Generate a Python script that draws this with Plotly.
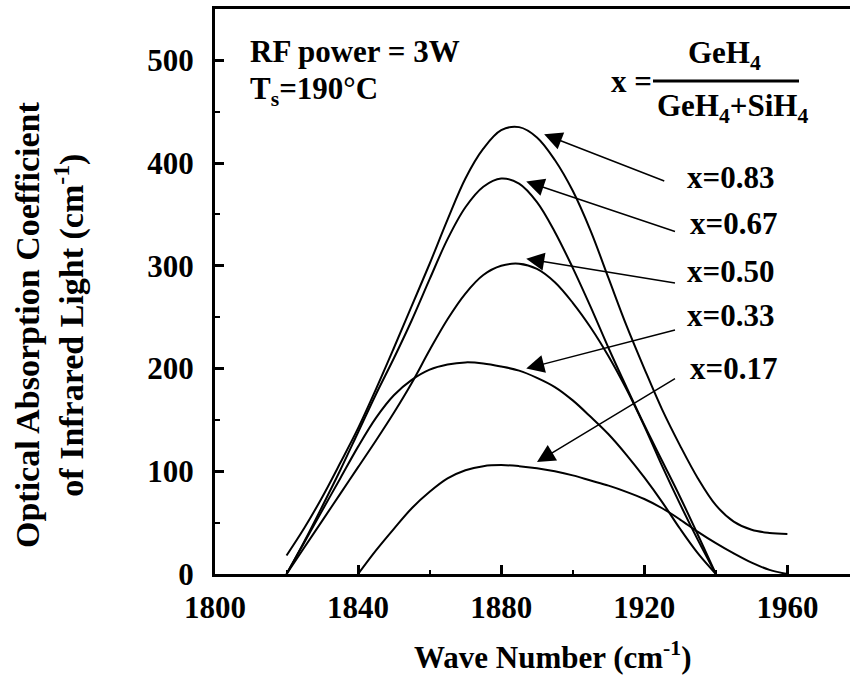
import plotly.graph_objects as go

# ---- data ----
wn_083 = [1820, 1825, 1830, 1835, 1840, 1845, 1850, 1855, 1860, 1865, 1870, 1875, 1880, 1885, 1890,
          1895, 1900, 1905, 1910, 1915, 1920, 1925, 1930, 1935, 1940, 1945, 1950, 1955, 1960]
ab_083 = [18, 45, 75, 108, 142, 180, 220, 261, 302, 345, 385, 414, 432, 435, 425,
          403, 373, 334, 288, 242, 200, 160, 125, 93, 67, 51, 43, 40, 39]

wn_067 = [1820, 1825, 1830, 1835, 1840, 1845, 1850, 1855, 1860, 1865, 1870, 1875, 1880, 1885, 1890,
          1895, 1900, 1905, 1910, 1915, 1920, 1925, 1930, 1935, 1940]
ab_067 = [0, 32, 66, 101, 138, 175, 210, 247, 287, 326, 357, 377, 385, 380, 362,
          333, 298, 260, 220, 182, 145, 110, 75, 38, 0]

wn_050 = [1820, 1825, 1830, 1835, 1840, 1845, 1850, 1855, 1860, 1865, 1870, 1875, 1880, 1885, 1890,
          1895, 1900, 1905, 1910, 1915, 1920, 1925, 1930, 1935, 1940]
ab_050 = [0, 26, 52, 78, 104, 130, 157, 186, 218, 248, 273, 291, 300, 302, 297,
          284, 264, 240, 212, 180, 144, 105, 68, 33, 0]

wn_033 = [1820, 1825, 1830, 1835, 1840, 1845, 1850, 1855, 1860, 1865, 1870, 1875, 1880, 1885, 1890,
          1895, 1900, 1905, 1910, 1915, 1920, 1925, 1930, 1935, 1940]
ab_033 = [0, 31, 62, 93, 124, 152, 174, 189, 199, 204, 206, 205, 202, 198, 191,
          182, 169, 153, 136, 116, 94, 70, 44, 20, 0]

wn_017 = [1840, 1845, 1850, 1855, 1860, 1865, 1870, 1875, 1880, 1885, 1890, 1895, 1900,
          1905, 1910, 1915, 1920, 1925, 1930, 1935, 1940, 1945, 1950, 1955, 1960]
ab_017 = [0, 23, 44, 64, 80, 93, 101, 105, 106, 105, 103, 100, 96,
          91, 86, 80, 73, 64, 53, 41, 30, 20, 11, 4, 0]

series = [("x=0.83", wn_083, ab_083), ("x=0.67", wn_067, ab_067), ("x=0.50", wn_050, ab_050),
          ("x=0.33", wn_033, ab_033), ("x=0.17", wn_017, ab_017)]

# label positions / arrow (label center, arrow tail, arrow head) in data units
label_xy = [(1944, 386), (1945, 341), (1944, 294), (1944, 252), (1945, 200)]
arrow_tail = [(1926, 382), (1929, 333), (1929, 283), (1929, 238), (1929, 191)]
arrow_head = [(1892, 428), (1887, 382), (1887, 307), (1887, 200), (1890, 109)]

x_ticks = [1800, 1840, 1880, 1920, 1960]
y_ticks = [0, 100, 200, 300, 400, 500]

FONT = "Liberation Serif"
FS = 31

# ---- figure ----
fig = go.Figure()
for name, xs, ys in series:
    fig.add_trace(go.Scatter(x=xs, y=ys, mode="lines", name=name,
                             line=dict(color="black", width=2, shape="spline", smoothing=1.0),
                             showlegend=False, hoverinfo="skip"))

L, R, T, B = 215, 0, 9, 116
W, H = 850, 690
pw, ph = W - L - R, H - T - B

def px(xp):
    return (xp - L) / pw

def py(yp):
    return (H - B - yp) / ph

ann = []
for (name, _, _), (lx, ly), (tx, ty), (hx, hy) in zip(series, label_xy, arrow_tail, arrow_head):
    ann.append(dict(x=lx, y=ly, xref="x", yref="y", text=name, showarrow=False,
                    font=dict(family=FONT, size=FS, color="black", weight="bold"),
                    xanchor="center", yanchor="middle"))
    ann.append(dict(x=hx, y=hy, ax=tx, ay=ty, xref="x", yref="y", axref="x", ayref="y",
                    text="", showarrow=True, arrowhead=2, arrowsize=2.4, arrowwidth=1.5,
                    arrowcolor="black"))

txtfont = dict(family=FONT, size=FS, color="black", weight="bold")
ann += [
    dict(x=px(248), y=py(52), xref="paper", yref="paper", text="RF power = 3W",
         showarrow=False, xanchor="left", yanchor="middle", font=txtfont),
    dict(x=px(248), y=py(91), xref="paper", yref="paper", text="T<sub>s</sub>=190°C",
         showarrow=False, xanchor="left", yanchor="middle", font=txtfont),
    dict(x=px(609), y=py(82), xref="paper", yref="paper", text="x =",
         showarrow=False, xanchor="left", yanchor="middle", font=txtfont),
    dict(x=px(724), y=py(55), xref="paper", yref="paper", text="GeH<sub>4</sub>",
         showarrow=False, xanchor="center", yanchor="middle", font=txtfont),
    dict(x=px(732), y=py(108), xref="paper", yref="paper", text="GeH<sub>4</sub>+SiH<sub>4</sub>",
         showarrow=False, xanchor="center", yanchor="middle", font=txtfont),
    dict(x=px(553), y=py(655), xref="paper", yref="paper", text="Wave Number (cm<sup>-1</sup>)",
         showarrow=False, xanchor="center", yanchor="middle", font=txtfont),
    dict(x=px(50), y=py(325), xref="paper", yref="paper",
         text="Optical Absorption Coefficient<br>of Infrared Light (cm<sup>-1</sup>)",
         showarrow=False, xanchor="center", yanchor="middle", textangle=-90,
         font=dict(family=FONT, size=34, color="black", weight="bold")),
]

shapes = [dict(type="line", xref="paper", yref="paper", x0=px(653), x1=px(799),
               y0=py(81), y1=py(81), line=dict(color="black", width=3))]

axis_common = dict(showline=True, linewidth=3, linecolor="black", showgrid=False, zeroline=False,
                   ticks="inside", ticklen=9, tickwidth=2.5, tickcolor="black",
                   tickfont=dict(family=FONT, size=FS, color="black", weight="bold"))

fig.update_layout(
    width=W, height=H,
    margin=dict(l=L, r=R, t=T, b=B, pad=0),
    plot_bgcolor="white", paper_bgcolor="white",
    xaxis=dict(range=[1800, 1977.5], tickvals=x_ticks, mirror=True, ticklabelstandoff=4,
               minor=dict(ticks="inside", ticklen=4, tickwidth=2, dtick=20, tick0=1800, tickcolor="black"),
               **axis_common),
    yaxis=dict(range=[0, 550], tickvals=y_ticks, ticklabelstandoff=12,
               minor=dict(ticks="inside", ticklen=5, tickwidth=2, dtick=50, tick0=0, tickcolor="black"),
               **axis_common),
    annotations=ann,
    shapes=shapes,
)

fig.write_html("out.html")
